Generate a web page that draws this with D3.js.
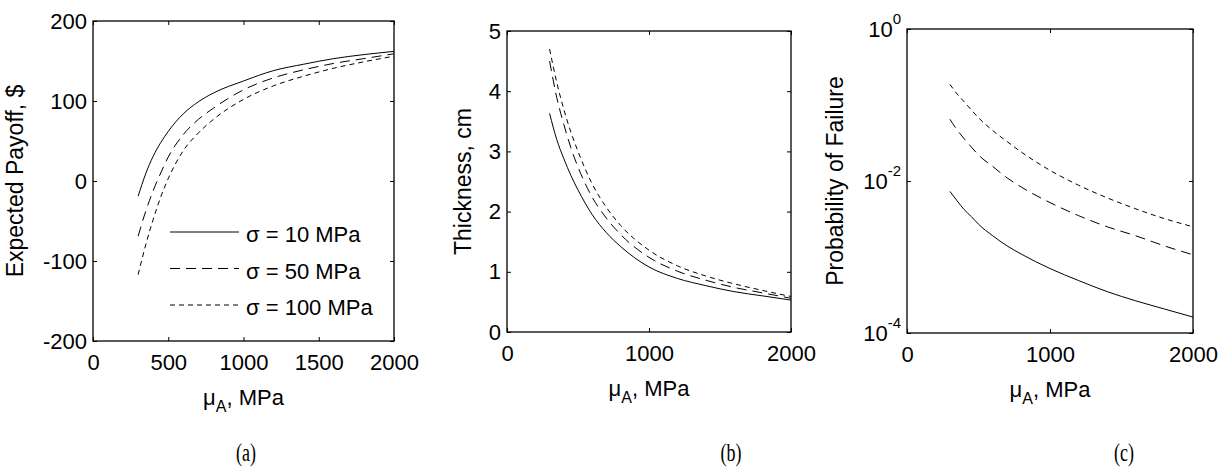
<!DOCTYPE html>
<html>
<head>
<meta charset="utf-8">
<script src="https://cdn.jsdelivr.net/npm/d3@7"></script>
<style>
  body { margin: 0; background: #fff; }
  svg text { font-family: "Liberation Sans", Arial, Helvetica, sans-serif; fill: #000; }
  svg text.caption { font-family: "Liberation Serif", "Times New Roman", serif; }
</style>
</head>
<body>
<div id="chart"></div>
<script>
// mean strength of material A, MPa (x values shared by every curve)
var MU_A = [300, 350, 400, 450, 500, 600, 700, 800, 1000, 1200, 1400, 1600, 1800, 2000];

var SIGMA_LABELS = ["σ = 10 MPa", "σ = 50 MPa", "σ = 100 MPa"];

// (a) expected payoff, $
var PAYOFF_10  = [-19, 9, 31, 48, 62, 84, 99, 110, 125, 138, 146, 153, 158, 162];
var PAYOFF_50  = [-69, -38, -12, 10, 30, 58, 77, 91, 114, 129, 139, 147, 153, 159];
var PAYOFF_100 = [-117, -80, -48, -20, 3, 38, 60, 77, 102, 119, 131, 141, 149, 156];

// (b) thickness, cm
var THICK_10  = [3.63, 3.2, 2.88, 2.6, 2.36, 1.95, 1.65, 1.42, 1.08, 0.89, 0.77, 0.67, 0.6, 0.53];
var THICK_50  = [4.5, 3.9, 3.45, 3.06, 2.74, 2.24, 1.89, 1.62, 1.24, 1.01, 0.86, 0.74, 0.65, 0.56];
var THICK_100 = [4.7, 4.15, 3.7, 3.32, 3.0, 2.46, 2.07, 1.77, 1.36, 1.1, 0.93, 0.8, 0.69, 0.59];

// (c) probability of failure
var PF_10  = [7.3e-3, 5.5e-3, 4.2e-3, 3.4e-3, 2.7e-3, 1.9e-3, 1.4e-3, 1.09e-3, 7.05e-4, 4.9e-4, 3.5e-4, 2.65e-4, 2.07e-4, 1.62e-4];
var PF_50  = [0.065, 0.047, 0.036, 0.028, 0.022, 0.0155, 0.011, 0.0083, 0.0052, 0.0035, 0.0025, 0.0019, 0.0014, 0.00107];
var PF_100 = [0.187, 0.14, 0.11, 0.086, 0.068, 0.046, 0.033, 0.024, 0.0138, 0.0088, 0.006, 0.0043, 0.0032, 0.0025];

// tick values
var X_TICKS_A  = [0, 500, 1000, 1500, 2000];
var X_TICKS_BC = [0, 1000, 2000];
var Y_TICKS_A  = [-200, -100, 0, 100, 200];
var Y_TICKS_B  = [0, 1, 2, 3, 4, 5];
var Y_TICKS_C  = [1, 1e-2, 1e-4];

var CAPTIONS = ["(a)", "(b)", "(c)"];

// line styles for the three sigma values
var DASHES = [null, "10,6", "5,4"];

var Figure = {
  W: 1229,
  H: 470,
  TICK: 4,
  svg: null,

  buildSvg: function(){
    this.svg = d3.select("#chart")
      .append("svg")
      .attr("width", this.W)
      .attr("height", this.H);
  },

  panels: function(){
    return [
      { box: { x: 93, y: 21, w: 301, h: 320 },
        y: d3.scaleLinear().domain([-200, 200]),
        xTicks: X_TICKS_A, yTicks: Y_TICKS_A,
        series: [PAYOFF_10, PAYOFF_50, PAYOFF_100],
        yLabel: "Expected Payoff, $", yLabelX: -70,
        caption: CAPTIONS[0], captionX: 246, legend: true },
      { box: { x: 507, y: 31, w: 284, h: 301 },
        y: d3.scaleLinear().domain([0, 5]),
        xTicks: X_TICKS_BC, yTicks: Y_TICKS_B,
        series: [THICK_10, THICK_50, THICK_100],
        yLabel: "Thickness, cm", yLabelX: -36,
        caption: CAPTIONS[1], captionX: 731 },
      { box: { x: 907, y: 29, w: 286, h: 304 },
        y: d3.scaleLog().domain([1e-4, 1]), log: true,
        xTicks: X_TICKS_BC, yTicks: Y_TICKS_C,
        series: [PF_10, PF_50, PF_100],
        yLabel: "Probability of Failure", yLabelX: -64,
        caption: CAPTIONS[2], captionX: 1124 }
    ];
  },

  drawPanel: function(p){
    var b = p.box;
    var x = d3.scaleLinear().domain([0, 2000]).range([0, b.w]);
    var y = p.y.range([b.h, 0]);
    var g = this.svg.append("g").attr("transform", "translate(" + b.x + "," + b.y + ")");

    // axes, ticks pointing inward on all four sides
    g.append("g").attr("transform", "translate(0," + b.h + ")")
      .call(d3.axisBottom(x).tickValues(p.xTicks).tickFormat(String)
        .tickSizeInner(-this.TICK).tickSizeOuter(0).tickPadding(13));
    g.append("g")
      .call(d3.axisTop(x).tickValues(p.xTicks).tickFormat("")
        .tickSizeInner(-this.TICK).tickSizeOuter(0));
    var left = g.append("g")
      .call(d3.axisLeft(y).tickValues(p.yTicks).tickFormat(p.log ? "" : String)
        .tickSizeInner(-this.TICK).tickSizeOuter(0).tickPadding(6));
    g.append("g").attr("transform", "translate(" + b.w + ",0)")
      .call(d3.axisRight(y).tickValues(p.yTicks).tickFormat("")
        .tickSizeInner(-this.TICK).tickSizeOuter(0));

    g.selectAll(".domain").remove();
    g.selectAll(".tick line").attr("stroke", "#000");
    g.selectAll(".tick text").attr("font-size", 22).attr("font-family", null).attr("fill", "#000");

    if (p.log) {
      left.selectAll(".tick text").each(function(d){
        var t = d3.select(this);
        t.text("10");
        t.append("tspan").attr("dy", -13).attr("font-size", 15)
          .text(Math.round(Math.log10(d)));
      });
    }

    // frame
    g.append("rect")
      .attr("width", b.w).attr("height", b.h)
      .attr("fill", "none").attr("stroke", "#000").attr("stroke-width", 1.3);

    // curves
    var line = d3.line()
      .x(function(d, i){ return x(MU_A[i]); })
      .y(function(d){ return y(d); })
      .curve(d3.curveMonotoneX);

    g.selectAll("path.curve")
      .data(p.series)
      .enter().append("path")
        .attr("class", "curve")
        .attr("d", line)
        .attr("fill", "none")
        .attr("stroke", "#000")
        .attr("stroke-width", 1)
        .attr("stroke-dasharray", function(d, i){ return DASHES[i]; });

    // axis titles
    var xl = g.append("text")
      .attr("x", b.w / 2).attr("y", b.h + 64)
      .attr("text-anchor", "middle").attr("font-size", 22);
    xl.append("tspan").text("μ");
    xl.append("tspan").attr("dy", 7).attr("font-size", 16).text("A");
    xl.append("tspan").attr("dy", -7).text(", MPa");

    g.append("text")
      .attr("transform", "translate(" + p.yLabelX + "," + (b.h / 2) + ") rotate(-90)")
      .attr("text-anchor", "middle").attr("font-size", 23)
      .text(p.yLabel);

    // caption below the panel
    this.svg.append("text")
      .attr("class", "caption")
      .attr("transform", "translate(" + p.captionX + ",461) scale(0.72,1)")
      .attr("text-anchor", "middle").attr("font-size", 25)
      .text(p.caption);

    if (p.legend) this.addLegend(g);
  },

  addLegend: function(g){
    var rows = g.selectAll("g.legend")
      .data(SIGMA_LABELS)
      .enter().append("g")
        .attr("class", "legend")
        .attr("transform", function(d, i){ return "translate(77," + (211 + i * 36.5) + ")"; });
    rows.append("line")
      .attr("x1", 0).attr("x2", 69)
      .attr("stroke", "#000").attr("stroke-width", 1)
      .attr("stroke-dasharray", function(d, i){ return DASHES[i]; });
    rows.append("text")
      .attr("x", 76).attr("y", 10)
      .attr("font-size", 22)
      .text(function(d){ return d; });
  },

  init: function(){
    var that = this;
    this.buildSvg();
    this.panels().forEach(function(p){ that.drawPanel(p); });
  }
};

Figure.init();
</script>
</body>
</html>
